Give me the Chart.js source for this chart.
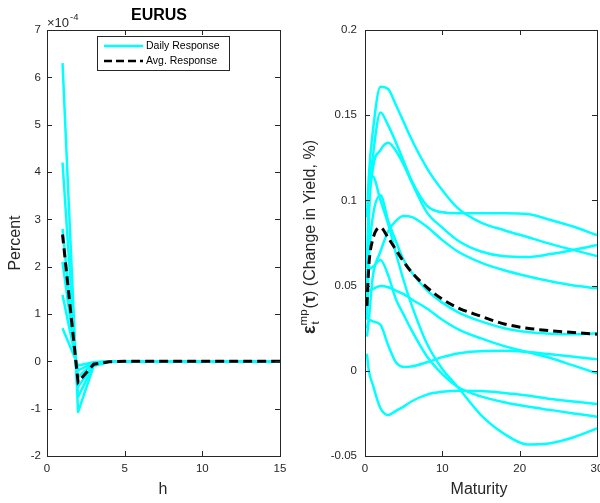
<!DOCTYPE html>
<html>
<head>
<meta charset="utf-8">
<script src="https://cdn.jsdelivr.net/npm/chart.js@4/dist/chart.umd.min.js"></script>
<style>
  body { margin: 0; background: #fff; }
  #wrap { position: relative; width: 600px; height: 503px; overflow: hidden; }
  canvas { position: absolute; top: 0; }
</style>
</head>
<body>
<div id="wrap">
  <canvas id="irfChart" width="300" height="503" style="left:0"></canvas>
  <canvas id="curveChart" width="300" height="503" style="left:300px"></canvas>
</div>
<script>
// ---- left panel: impulse responses (units of 1e-4) ----
const horizons = [1, 2, 3, 4, 5, 6, 7, 8, 9, 10, 11, 12, 13, 14, 15];
const irfDay1 = [6.3, -1.07, -0.10, -0.01, 0, 0, 0, 0, 0, 0, 0, 0, 0, 0, 0];
const irfDay2 = [4.2, -0.75, -0.08, -0.01, 0, 0, 0, 0, 0, 0, 0, 0, 0, 0, 0];
const irfDay3 = [2.8, -0.54, -0.06, -0.01, 0, 0, 0, 0, 0, 0, 0, 0, 0, 0, 0];
const irfDay4 = [2.1, -0.33, -0.04, 0, 0, 0, 0, 0, 0, 0, 0, 0, 0, 0, 0];
const irfDay5 = [1.4, -0.19, -0.03, 0, 0, 0, 0, 0, 0, 0, 0, 0, 0, 0, 0];
const irfDay6 = [0.7, -0.09, -0.02, 0, 0, 0, 0, 0, 0, 0, 0, 0, 0, 0, 0];
const irfAvg  = [2.68, -0.44, -0.06, -0.01, 0, 0, 0, 0, 0, 0, 0, 0, 0, 0, 0];
const irfYTicks = [-2, 7];

// ---- right panel: yield curve responses ----
const maturities = [0.25, 0.5, 1, 2, 3, 4, 5, 6, 8, 10, 12, 15, 18, 21, 24, 27, 30];
const curveDay1  = [0.090, 0.115, 0.140, 0.1667, 0.1653, 0.156, 0.146, 0.136, 0.119, 0.106, 0.0955, 0.087, 0.0825, 0.0785, 0.0745, 0.0708, 0.0673];
const curveDay2  = [0.060, 0.100, 0.125, 0.1516, 0.144, 0.134, 0.123, 0.112, 0.097, 0.093, 0.0925, 0.0925, 0.0925, 0.092, 0.0885, 0.0845, 0.0796];
const curveDay3  = [0.035, 0.090, 0.118, 0.1295, 0.1338, 0.129, 0.121, 0.111, 0.093, 0.084, 0.0765, 0.070, 0.0672, 0.0668, 0.0685, 0.0710, 0.0738];
const curveDay4  = [0.020, 0.030, 0.055, 0.070, 0.082, 0.088, 0.0908, 0.0903, 0.0845, 0.0767, 0.070, 0.0635, 0.059, 0.0555, 0.0525, 0.050, 0.0484];
const curveDay5  = [0.030, 0.065, 0.090, 0.103, 0.088, 0.076, 0.065, 0.058, 0.0474, 0.040, 0.0345, 0.029, 0.025, 0.0228, 0.0218, 0.0215, 0.022];
const curveDay6  = [0.045, 0.095, 0.114, 0.100, 0.086, 0.069, 0.053, 0.039, 0.016, 0.001, -0.0095, -0.026, -0.037, -0.0432, -0.0425, -0.039, -0.0338];
const curveDay7  = [0.060, 0.060, 0.061, 0.065, 0.056, 0.042, 0.033, 0.024, 0.0085, -0.002, -0.0095, -0.015, -0.0185, -0.021, -0.023, -0.025, -0.027];
const curveDay8  = [0.045, 0.047, 0.048, 0.0497, 0.049, 0.047, 0.045, 0.042, 0.0366, 0.030, 0.0245, 0.019, 0.0145, 0.011, 0.0075, 0.003, -0.0015];
const curveDay9  = [0.025, 0.030, 0.029, 0.027, 0.015, 0.005, 0.0023, 0.0025, 0.005, 0.008, 0.0102, 0.0115, 0.0117, 0.011, 0.0097, 0.0083, 0.0067];
const curveDay10 = [0.010, 0.000, -0.008, -0.022, -0.026, -0.0235, -0.021, -0.018, -0.014, -0.0123, -0.0117, -0.0118, -0.013, -0.0145, -0.0165, -0.018, -0.0195];
const curveAvg   = [0.038, 0.062, 0.077, 0.084, 0.078, 0.071, 0.064, 0.058, 0.049, 0.042, 0.037, 0.032, 0.0275, 0.025, 0.0235, 0.0225, 0.0215];

const CYAN = '#00ffff';
const AXIS = '#262626';
const FONT = '"Liberation Sans", Arial, Helvetica, sans-serif';

Chart.defaults.font.family = FONT;

function toPoints(xs, ys) {
  return xs.map((x, i) => ({ x: x, y: ys[i] }));
}

function dailySet(xs, ys, smooth) {
  return {
    data: toPoints(xs, ys), borderColor: CYAN, borderWidth: 2.5, pointRadius: 0,
    tension: 0, cubicInterpolationMode: smooth ? 'monotone' : 'default', borderJoinStyle: 'round'
  };
}

function avgSet(xs, ys, smooth) {
  return {
    data: toPoints(xs, ys), borderColor: '#000', borderWidth: 3, borderDash: [9, 5], pointRadius: 0,
    tension: 0, cubicInterpolationMode: smooth ? 'monotone' : 'default'
  };
}

// matlab style box with inward ticks on all four sides
const boxPlugin = {
  id: 'boxTicks',
  afterDraw(chart) {
    const ctx = chart.ctx;
    const a = chart.chartArea;
    const xs = chart.scales.x, ys = chart.scales.y;
    ctx.save();
    ctx.strokeStyle = AXIS;
    ctx.lineWidth = 1;
    ctx.strokeRect(a.left + 0.5, a.top + 0.5, a.right - a.left, a.bottom - a.top);
    ctx.beginPath();
    xs.ticks.forEach(t => {
      const px = Math.round(xs.getPixelForValue(t.value)) + 0.5;
      ctx.moveTo(px, a.bottom); ctx.lineTo(px, a.bottom - 5);
      ctx.moveTo(px, a.top); ctx.lineTo(px, a.top + 5);
    });
    ys.ticks.forEach(t => {
      const py = Math.round(ys.getPixelForValue(t.value)) + 0.5;
      ctx.moveTo(a.left, py); ctx.lineTo(a.left + 5, py);
      ctx.moveTo(a.right, py); ctx.lineTo(a.right - 5, py);
    });
    ctx.stroke();
    ctx.restore();
  }
};

function axisScales(xMin, xMax, xStep, yMin, yMax, yStep, yWidth, yPad, fmt) {
  return {
    x: {
      type: 'linear', min: xMin, max: xMax,
      ticks: { stepSize: xStep, color: AXIS, font: { size: 11.5 }, padding: 6, maxRotation: 0, autoSkip: false },
      grid: { display: false, drawTicks: false },
      border: { display: false },
      afterFit: s => { s.height = 47; s.paddingLeft = 0; s.paddingRight = 0; }
    },
    y: {
      type: 'linear', min: yMin, max: yMax,
      ticks: { stepSize: yStep, color: AXIS, font: { size: 11.5 }, padding: yPad, callback: fmt },
      grid: { display: false, drawTicks: false },
      border: { display: false },
      afterFit: s => { s.width = yWidth; s.paddingTop = 0; s.paddingBottom = 0; }
    }
  };
}

// ---- left chart ----
const irfText = {
  id: 'irfText',
  afterDraw(chart) {
    const ctx = chart.ctx;
    ctx.save();
    ctx.fillStyle = '#000';
    ctx.textAlign = 'center';
    ctx.textBaseline = 'middle';
    ctx.font = 'bold 16px ' + FONT;
    ctx.fillText('EURUS', 159, 16);

    ctx.fillStyle = AXIS;
    ctx.font = '16px ' + FONT;
    ctx.fillText('h', 163, 490);

    ctx.save();
    ctx.translate(16, 243);
    ctx.rotate(-Math.PI / 2);
    ctx.fillText('Percent', 0, 0);
    ctx.restore();

    // exponent
    ctx.textAlign = 'left';
    ctx.textBaseline = 'alphabetic';
    ctx.font = '13px ' + FONT;
    ctx.fillText('\u00d710', 47, 27);
    const w = ctx.measureText('\u00d710').width;
    ctx.font = '9.5px ' + FONT;
    ctx.fillText('-4', 47 + w + 1, 20);

    // legend
    const lx = 97, ly = 36, lw = 132, lh = 34;
    ctx.fillStyle = '#fff';
    ctx.fillRect(lx, ly, lw, lh);
    ctx.strokeStyle = AXIS;
    ctx.lineWidth = 1;
    ctx.strokeRect(lx + 0.5, ly + 0.5, lw, lh);
    ctx.lineWidth = 2.5;
    ctx.strokeStyle = CYAN;
    ctx.beginPath(); ctx.moveTo(104, 46); ctx.lineTo(143, 46); ctx.stroke();
    ctx.strokeStyle = '#000';
    ctx.setLineDash([8, 4]);
    ctx.beginPath(); ctx.moveTo(104, 61); ctx.lineTo(143, 61); ctx.stroke();
    ctx.setLineDash([]);
    ctx.fillStyle = '#000';
    ctx.font = '10.5px ' + FONT;
    ctx.textBaseline = 'middle';
    ctx.fillText('Daily Response', 146, 46);
    ctx.fillText('Avg. Response', 146, 61);
    ctx.restore();
  }
};

new Chart(document.getElementById('irfChart'), {
  type: 'line',
  data: {
    datasets: [
      avgSet(horizons, irfAvg, false),
      dailySet(horizons, irfDay1, false), dailySet(horizons, irfDay2, false), dailySet(horizons, irfDay3, false),
      dailySet(horizons, irfDay4, false), dailySet(horizons, irfDay5, false), dailySet(horizons, irfDay6, false)
    ]
  },
  options: {
    responsive: false,
    animation: false,
    events: [],
    layout: { padding: { left: 0, right: 20, top: 30, bottom: 0 } },
    plugins: { legend: { display: false }, tooltip: { enabled: false } },
    scales: axisScales(0, 15, 5, irfYTicks[0], irfYTicks[1], 1, 47, 6, v => String(v))
  },
  plugins: [boxPlugin, irfText]
});

// ---- right chart ----
const curveText = {
  id: 'curveText',
  afterDraw(chart) {
    const ctx = chart.ctx;
    ctx.save();
    ctx.fillStyle = AXIS;
    ctx.textAlign = 'center';
    ctx.textBaseline = 'middle';
    ctx.font = '16px ' + FONT;
    ctx.fillText('Maturity', 179, 490);

    // rotated y label: eps_t^mp(tau) (Change in Yield, %)
    const parts = [
      { t: '\u03b5', f: 'bold 18px ' + FONT, dy: 0 },
      { t: 'mp', f: '11.5px ' + FONT, dy: -8, sub: 't' },
      { t: '(', f: '16px ' + FONT, dy: 0 },
      { t: '\u03c4', f: 'bold 16px ' + FONT, dy: 0 },
      { t: ') (Change in Yield, %)', f: '16px ' + FONT, dy: 0 }
    ];
    let total = 0;
    parts.forEach(p => {
      ctx.font = p.f;
      p.w = ctx.measureText(p.t).width + (p.sub ? 1 : 0);
      total += p.w;
    });
    ctx.translate(15, 237);
    ctx.rotate(-Math.PI / 2);
    ctx.textAlign = 'left';
    ctx.textBaseline = 'alphabetic';
    let u = -total / 2;
    parts.forEach(p => {
      ctx.font = p.f;
      ctx.fillText(p.t, u, p.dy);
      if (p.sub) ctx.fillText(p.sub, u + 1, 4);
      u += p.w;
    });
    ctx.restore();
  }
};

new Chart(document.getElementById('curveChart'), {
  type: 'line',
  data: {
    datasets: [
      avgSet(maturities, curveAvg, true),
      dailySet(maturities, curveDay1, true), dailySet(maturities, curveDay2, true), dailySet(maturities, curveDay3, true),
      dailySet(maturities, curveDay4, true), dailySet(maturities, curveDay5, true), dailySet(maturities, curveDay6, true),
      dailySet(maturities, curveDay7, true), dailySet(maturities, curveDay8, true), dailySet(maturities, curveDay9, true),
      dailySet(maturities, curveDay10, true)
    ]
  },
  options: {
    responsive: false,
    animation: false,
    events: [],
    layout: { padding: { left: 0, right: 3, top: 30, bottom: 0 } },
    plugins: { legend: { display: false }, tooltip: { enabled: false } },
    scales: axisScales(0, 30, 10, -0.05, 0.2, 0.05, 65, 8, v => String(parseFloat(v.toFixed(2))))
  },
  plugins: [boxPlugin, curveText]
});
</script>
</body>
</html>
